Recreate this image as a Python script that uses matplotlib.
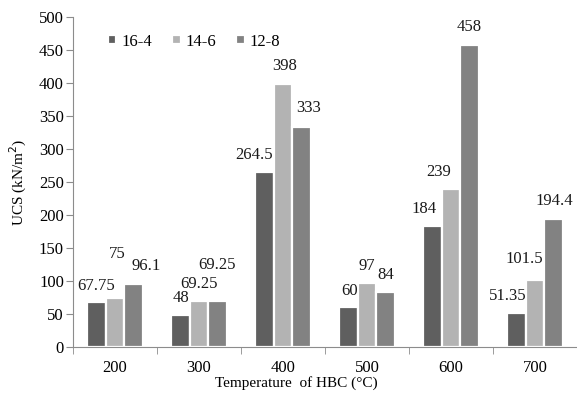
import numpy as np
import matplotlib
matplotlib.use("Agg")
import matplotlib.pyplot as plt

# --- data ---
temps = ["200", "300", "400", "500", "600", "700"]
series_names = ["16-4", "14-6", "12-8"]
ucs_16_4 = [67.75, 48, 264.5, 60, 184, 51.35]
ucs_14_6 = [75, 69.25, 398, 97, 239, 101.5]
ucs_12_8 = [96.1, 69.25, 333, 84, 458, 194.4]
label_text_16_4 = ["67.75", "48", "264.5", "60", "184", "51.35"]
label_text_14_6 = ["75", "69.25", "398", "97", "239", "101.5"]
label_text_12_8 = ["96.1", "69.25", "333", "84", "458", "194.4"]

# --- style ---
colors = ["#5f5f5f", "#b3b3b3", "#828282"]
# label offsets (pixels) relative to bar top centre, as placed in the original
offsets = [
    [(0, 16), (1, 17), (-10, 17), (1, 16), (-8, 17), (-9, 17)],
    [(2, 44), (0, 17), (2, 18), (0, 17), (-12, 17), (-11, 21)],
    [(12, 18), (-1, 36), (7, 19), (0, 17), (0, 18), (1, 18)],
]
plt.rcParams["font.family"] = ["Liberation Serif", "DejaVu Serif"]
axis_color = "#8c8c8c"
fs = 12

fig = plt.figure(figsize=(5.77, 3.98), dpi=100)
ax = fig.add_axes([73 / 577, 51 / 398, 504 / 577, 330 / 398])

x = np.arange(len(temps))
spacing = 0.222
width = 0.222
data = [ucs_16_4, ucs_14_6, ucs_12_8]
texts = [label_text_16_4, label_text_14_6, label_text_12_8]
for i, (vals, name) in enumerate(zip(data, series_names)):
    pos = x + (i - 1) * spacing
    ax.bar(pos, vals, width, color=colors[i], edgecolor="white", linewidth=1.6,
           label=name)
    for j, (p, v) in enumerate(zip(pos, vals)):
        dx, dy = offsets[i][j]
        ax.annotate(texts[i][j], (p, v), xytext=(dx, dy), textcoords="offset pixels",
                    ha="center", va="center", fontsize=fs, color="#1a1a1a")

ax.set_xlim(-0.5, len(temps) - 0.5)
ax.set_ylim(0, 500)
ax.set_yticks(np.arange(0, 501, 50))
ax.set_xticks(x)
ax.set_xticklabels(temps)
ax.set_xticks(np.arange(-0.5, len(temps), 1), minor=True)
ax.tick_params(axis="x", which="major", length=0, pad=9, labelsize=fs)
ax.tick_params(axis="x", which="minor", length=5, color=axis_color)
ax.tick_params(axis="y", length=5, color=axis_color, labelsize=fs, pad=1.5)

for s in ["top", "right"]:
    ax.spines[s].set_visible(False)
for s in ["left", "bottom"]:
    ax.spines[s].set_color(axis_color)

ax.set_ylabel("UCS (kN/m$^2$)", fontsize=11)
ax.yaxis.set_label_coords(-0.087, 0.5)
ax.set_xlabel("Temperature  of HBC (\u00b0C)", fontsize=11)
ax.xaxis.set_label_coords(0.444, -0.088)

ax.legend(loc="upper left", bbox_to_anchor=(0.04, 0.995), ncol=3, frameon=False,
          handlelength=0.5, handleheight=0.5, handletextpad=0.3,
          columnspacing=1.2, fontsize=fs)

plt.savefig("out.png", dpi=100)
